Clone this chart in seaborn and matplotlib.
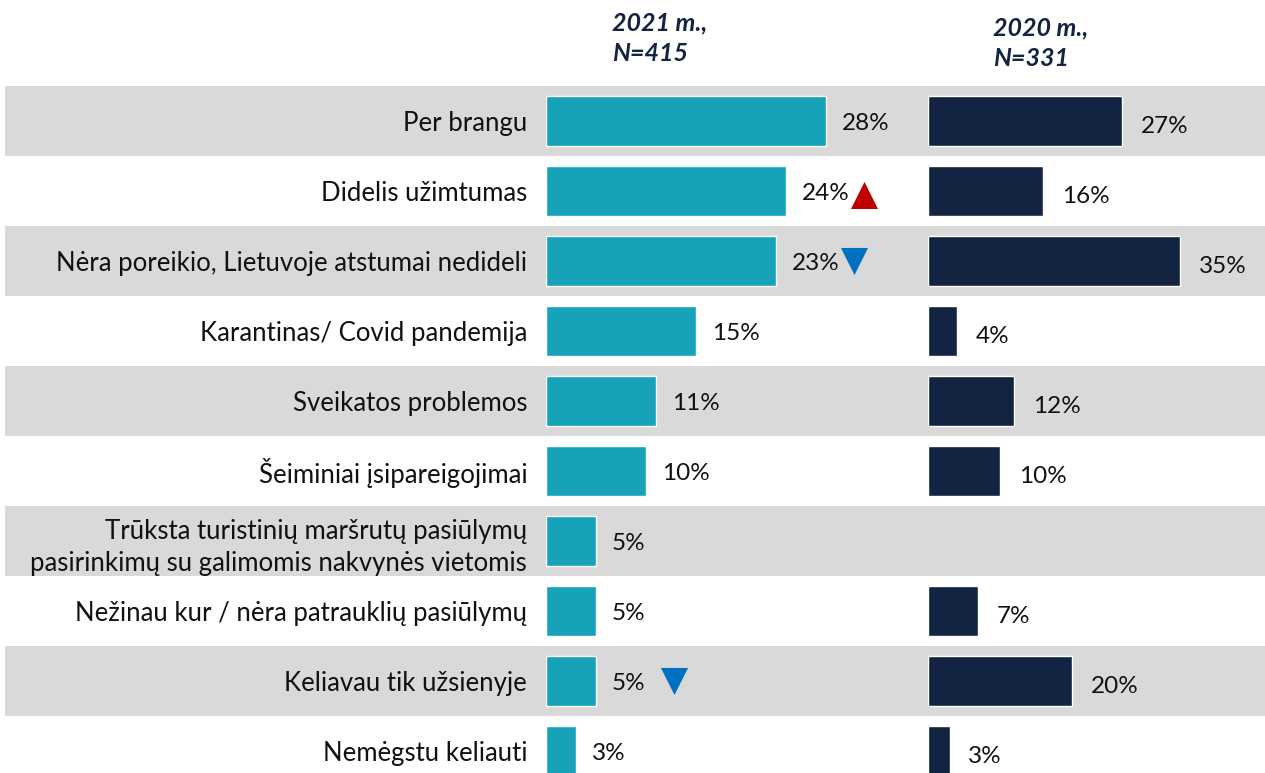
import numpy as np
import matplotlib
matplotlib.use("Agg")
import matplotlib.pyplot as plt
import seaborn as sns

# data
categories = [
    "Per brangu",
    "Didelis užimtumas",
    "Nėra poreikio, Lietuvoje atstumai nedideli",
    "Karantinas/ Covid pandemija",
    "Sveikatos problemos",
    "Šeiminiai įsipareigojimai",
    "Trūksta turistinių maršrutų pasiūlymų\npasirinkimų su galimomis nakvynės vietomis",
    "Nežinau kur / nėra patrauklių pasiūlymų",
    "Keliavau tik užsienyje",
    "Nemėgstu keliauti",
]
values_2021 = [28, 24, 23, 15, 11, 10, 5, 5, 5, 3]
values_2020 = [27, 16, 35, 4, 12, 10, np.nan, 7, 20, 3]
header_2021 = "2021 m.,\nN=415"
header_2020 = "2020 m.,\nN=331"
# significance markers on 2021 values: (row index, direction)
change_marks = [(1, "up"), (2, "down"), (8, "down")]

teal = "#16A3BA"
navy = "#132342"
band = "#D9D9D9"

sns.set_theme(style="white")
plt.rcParams["font.family"] = ["Lato", "DejaVu Sans"]

W, H = 1265, 773
fig = plt.figure(figsize=(W / 100, H / 100), dpi=100)
top = 1 - 86 / H
ylim = (-0.5 + (H - 86) / 70, -0.5)

# background bands
ax0 = fig.add_axes([0, 0, 1, top])
ax0.set_xlim(0, W)
ax0.set_ylim(*ylim)
for i in range(0, len(categories), 2):
    ax0.axhspan(i - 0.5, i + 0.5, xmin=5 / W, xmax=1, color=band, lw=0)
ax0.axis("off")

# 2021 panel
ax1 = fig.add_axes([546 / W, 0, 364 / W, top])
sns.barplot(x=values_2021, y=categories, orient="h", color=teal,
            width=0.72, errorbar=None, saturation=1, ax=ax1)
ax1.set_xlim(0, 36.4)
ax1.set_ylim(*ylim)
for i, v in enumerate(values_2021):
    ax1.text(v + 1.6, i + 0.03, f"{v}%", va="center", ha="left", fontsize=17.5, color="#111111")
for row, d in change_marks:
    ax1.scatter(values_2021[row] + 7.8, row + (0.05 if d == "up" else 0.0),
                marker="^" if d == "up" else "v", s=380,
                color="#C00000" if d == "up" else "#0070C0", lw=0, zorder=5)
ax1.tick_params(axis="y", length=0, pad=13.5, labelsize=18.5, labelcolor="#111111")
for lab in ax1.get_yticklabels():
    lab.set_linespacing(1.35)
ax1.set_xticks([])
ax1.set_xlabel("")
ax1.set_ylabel("")
ax1.patch.set_alpha(0)
sns.despine(ax=ax1, left=True, bottom=True)

# 2020 panel
ax2 = fig.add_axes([928 / W, 0, 337 / W, top])
sns.barplot(x=values_2020, y=categories, orient="h", color=navy,
            width=0.72, errorbar=None, saturation=1, ax=ax2)
ax2.set_xlim(0, 46.8)
ax2.set_ylim(*ylim)
for i, v in enumerate(values_2020):
    if not np.isnan(v):
        ax2.text(v + 2.6, i + 0.08, f"{v:.0f}%", va="center", ha="left", fontsize=17.5, color="#111111")
ax2.set_yticks([])
ax2.set_xticks([])
ax2.set_xlabel("")
ax2.set_ylabel("")
ax2.patch.set_alpha(0)
sns.despine(ax=ax2, left=True, bottom=True)

# headers
fig.text(612 / W, 1 - 11 / H, header_2021, ha="left", va="top", fontsize=18,
         fontweight="bold", fontstyle="italic", color=navy, linespacing=1.4)
fig.text(993 / W, 1 - 16 / H, header_2020, ha="left", va="top", fontsize=18,
         fontweight="bold", fontstyle="italic", color=navy, linespacing=1.4)

fig.savefig("out.png", dpi=100)
